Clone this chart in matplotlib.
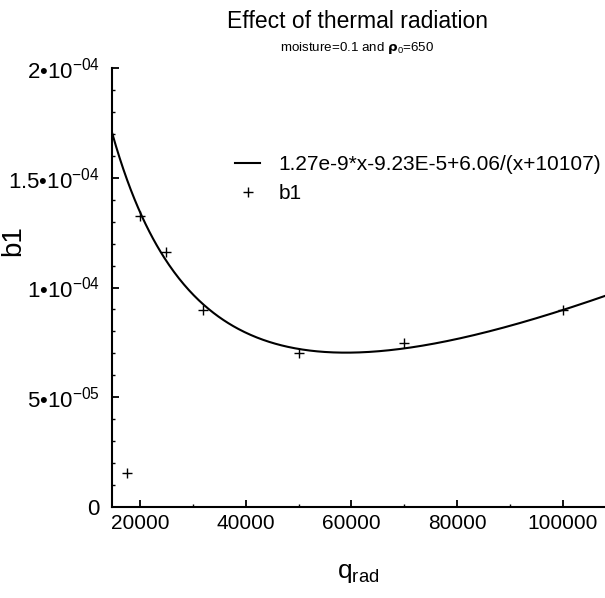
import numpy as np
import matplotlib
matplotlib.use("Agg")
import matplotlib.pyplot as plt
from matplotlib.ticker import MultipleLocator, FixedLocator, FixedFormatter

plt.rcParams['font.family'] = ['Liberation Sans', 'DejaVu Sans']
plt.rcParams['mathtext.fontset'] = 'custom'
plt.rcParams['mathtext.rm'] = 'Liberation Sans'
plt.rcParams['mathtext.it'] = 'Liberation Sans'

# data points (b1 vs q_rad)
q_rad = [17500, 20000, 25000, 32000, 50000, 70000, 100000]
b1 = [1.56e-5, 1.326e-4, 1.163e-4, 8.97e-5, 7.03e-5, 7.46e-5, 8.97e-5]

# fit coefficients from the legend: a*x + b + c/(x + d)
fit_a = 1.27e-9
fit_b = -9.23e-5
fit_c = 6.06
fit_d = 10107
fit_label = "1.27e-9*x-9.23E-5+6.06/(x+10107)"

x_ticks = [20000, 40000, 60000, 80000, 100000]
x_ticklabels = ["20000", "40000", "60000", "80000", "100000"]
y_ticks = [0, 5e-5, 1e-4, 1.5e-4, 2e-4]
y_ticklabels = ["0", r"5•10$^{\mathregular{-05}}$", r"1•10$^{\mathregular{-04}}$",
                r"1.5•10$^{\mathregular{-04}}$", r"2•10$^{\mathregular{-04}}$"]

xmin, xmax = 14760, 108000

fig = plt.figure(figsize=(6.05, 5.98), dpi=100)
ax = fig.add_axes([112.3/605, 1 - 507/598, 1 - 112.3/605, (507 - 68)/598])

xs = np.linspace(xmin, xmax, 400)
ys = fit_a * xs + fit_b + fit_c / (xs + fit_d)
ax.plot(xs, ys, color='black', lw=1.5, label=fit_label)
ax.plot(q_rad, b1, linestyle='none', marker='+', color='black', ms=7.5, mew=1.0, label='b1')

ax.set_xlim(xmin, xmax)
ax.set_ylim(0, 2e-4)
ax.xaxis.set_major_locator(FixedLocator(x_ticks))
ax.xaxis.set_major_formatter(FixedFormatter(x_ticklabels))
ax.xaxis.set_minor_locator(MultipleLocator(10000))
ax.yaxis.set_major_locator(FixedLocator(y_ticks))
ax.yaxis.set_major_formatter(FixedFormatter(y_ticklabels))
ax.yaxis.set_minor_locator(MultipleLocator(1e-5))

for s in ['top', 'right']:
    ax.spines[s].set_visible(False)
for s in ['left', 'bottom']:
    ax.spines[s].set_linewidth(1.5)

ax.tick_params(which='major', direction='in', length=5, width=1.3)
ax.tick_params(which='minor', direction='in', length=2.5, width=1.0)
ax.tick_params(axis='y', which='major', pad=9, labelsize=16)
ax.tick_params(axis='x', which='major', pad=5, labelsize=15)

ax.set_ylabel('b1', fontsize=20)
ax.yaxis.set_label_coords((26 - 112.3) / 492.7, (507 - 241) / 439)
ax.set_xlabel(r'q$_{\mathregular{rad}}$', fontsize=19, labelpad=20)

fig.text(357/605, 1 - 22/598, 'Effect of thermal radiation', ha='center', va='center', fontsize=16.5)
fig.text(357/605, 1 - 48/598, r'moisture=0.1 and $\mathbf{\rho}_{\mathregular{0}}$=650', ha='center', va='center', fontsize=9.6)

leg = ax.legend(loc='upper left', bbox_to_anchor=(235/605, 1 - 155/598), bbox_transform=fig.transFigure,
                frameon=False, fontsize=15, handlelength=1.2, handletextpad=0.9,
                labelspacing=0.5, borderpad=0, borderaxespad=0)

fig.savefig('out.png', dpi=100)
